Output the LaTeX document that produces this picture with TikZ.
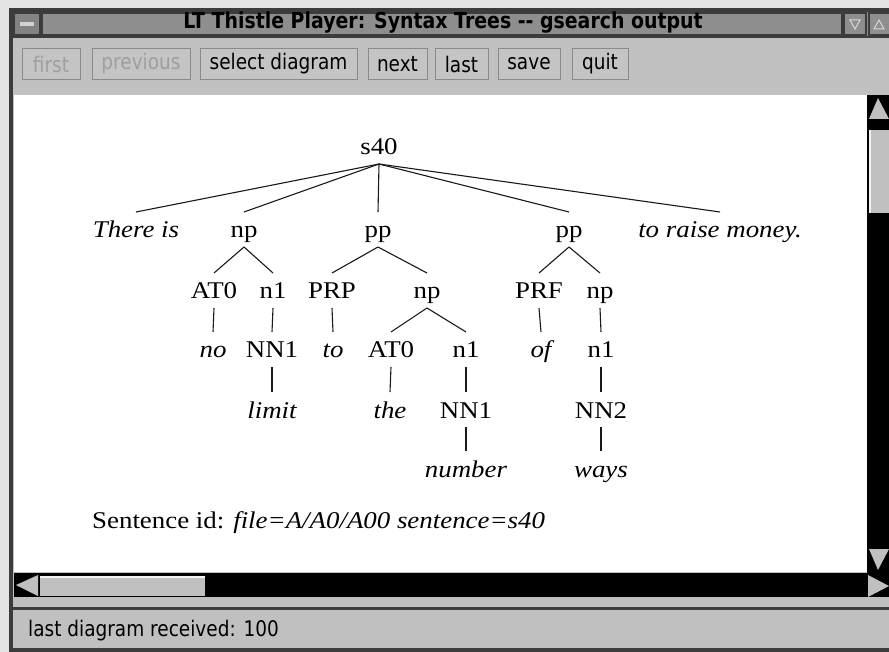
\documentclass[tikz,border=0pt]{standalone}
\usepackage{fontspec}
\setmainfont{Liberation Serif}[FakeStretch=1.12]
\newfontfamily\uifont{DejaVu Sans}[FakeStretch=0.86]
\usetikzlibrary{calc}
\definecolor{framedark}{HTML}{3C3C3C}
\definecolor{titlegray}{HTML}{8E8E8E}
\definecolor{wingray}{HTML}{C0C0C0}
\definecolor{btnfill}{HTML}{C4C4C4}
\definecolor{btnedge}{HTML}{8A8A8A}
\definecolor{outerbg}{HTML}{E4E4E4}
\newcommand\treeedge[2]{\draw[branch] ($(#1.base)+(0,9)$) -- ($(#2.base)+(0,-26)$);}
\begin{document}
\begin{tikzpicture}[x=1pt,y=-1pt,
  word/.style={font=\fontsize{24}{28}\selectfont\itshape, anchor=base, inner sep=0pt},
  cat/.style={font=\fontsize{24}{28}\selectfont, anchor=base, inner sep=0pt},
  branch/.style={line width=1.1pt, black!90},
  btn/.style={draw=btnedge, fill=btnfill, line width=1pt, minimum height=31pt, inner sep=0pt,
    font=\uifont\fontsize{21.5}{24}\selectfont},
  btnoff/.style={btn, text=gray!75},
  uitext/.style={font=\uifont\fontsize{21.5}{24}\selectfont, inner sep=0pt}]
\useasboundingbox (0,0) rectangle (889,652);
% outer background and window body
\fill[outerbg] (0,0) rectangle (889,652);
\fill[wingray] (9,8) rectangle (889,652);
\fill[framedark] (9,8) rectangle (13,652);
\fill[framedark] (9,8) rectangle (889,12);
% title bar
\fill[titlegray] (13,12) rectangle (889,36);
\fill[framedark] (13,36) rectangle (889,38);
\draw[framedark, line width=1.5pt, fill=titlegray!110] (14,13) rectangle (40,35);
\fill[gray!35] (20,22) rectangle (34,26);
\draw[framedark, line width=1.5pt] (42,13) rectangle (842,35);
\draw[framedark, line width=1.5pt] (844,13) rectangle (866,35);
\draw[framedark, line width=1.5pt] (869,13) rectangle (891,35);
\draw[gray!30, line width=1pt] (850,20) -- (860,20) -- (855,29) -- cycle;
\draw[gray!30, line width=1pt] (874,29) -- (884,29) -- (879,20) -- cycle;
\node[font=\uifont\bfseries\fontsize{22}{24}\selectfont, inner sep=0pt] (title) at (443,23) {LT Thistle Player: Syntax Trees -{}- gsearch output};
% buttons
\node[btnoff, minimum width=58pt] (bfirst) at (51,64) {first};
\node[btnoff, minimum width=98pt] (bprev) at (141,64) {previous};
\node[btn, minimum width=157pt] (bsel) at (278.5,64) {select diagram};
\node[btn, minimum width=59pt] (bnext) at (397.5,64) {next};
\node[btn, minimum width=53pt] (blast) at (461.5,64) {last};
\node[btn, minimum width=62pt] (bsave) at (529,64) {save};
\node[btn, minimum width=56pt] (bquit) at (600,64) {quit};
% canvas
\fill[white] (14,95) rectangle (867,572);
% vertical scrollbar
\fill[black] (867,95) rectangle (889,573);
\fill[wingray] (878,98) -- (869,119) -- (889,119) -- cycle;
\fill[wingray] (869,130) rectangle (889,213);
\fill[white!80!wingray] (869,130) rectangle (871,213);
\fill[wingray] (869,549) -- (889,549) -- (878,570) -- cycle;
% horizontal scrollbar
\fill[black] (14,573) rectangle (889,597);
\fill[wingray] (16,585) -- (38,575) -- (38,596) -- cycle;
\fill[wingray] (40,576) rectangle (205,596);
\fill[white!80!wingray] (40,576) rectangle (205,578);
\fill[wingray] (868,575) -- (868,597) -- (889,586) -- cycle;
% status bar
\fill[wingray] (13,597) rectangle (889,607);
\fill[framedark] (13,607) rectangle (889,610);
\fill[wingray] (14,610) rectangle (889,648);
\fill[framedark] (13,648) rectangle (889,652);
\node[uitext, anchor=west] (status) at (28,631) {last diagram received: 100};
% tree
\node[cat] (s) at (379,155) {s40};
\node[word] (w1) at (136,238) {There is};
\node[cat] (np1) at (244,238) {np};
\node[cat] (pp1) at (378,238) {pp};
\node[cat] (pp2) at (569,238) {pp};
\node[word] (w2) at (720,238) {to raise money.};
\node[cat] (at1) at (214,299) {AT0};
\node[cat] (n1a) at (273,299) {n1};
\node[cat] (prp) at (332,299) {PRP};
\node[cat] (np2) at (427,299) {np};
\node[cat] (prf) at (539,299) {PRF};
\node[cat] (np3) at (600,299) {np};
\node[word] (no) at (213,358) {no};
\node[cat] (nn1a) at (272,358) {NN1};
\node[word] (to) at (333,358) {to};
\node[cat] (at2) at (391,358) {AT0};
\node[cat] (n1b) at (466,358) {n1};
\node[word] (of) at (541,358) {of};
\node[cat] (n1c) at (601,358) {n1};
\node[word] (limit) at (272,418) {limit};
\node[word] (the) at (390,418) {the};
\node[cat] (nn1b) at (466,418) {NN1};
\node[cat] (nn2) at (601,418) {NN2};
\node[word] (number) at (466,477) {number};
\node[word] (ways) at (601,477) {ways};
\treeedge{s}{w1}
\treeedge{s}{np1}
\treeedge{s}{pp1}
\treeedge{s}{pp2}
\treeedge{s}{w2}
\treeedge{np1}{at1}
\treeedge{np1}{n1a}
\treeedge{pp1}{prp}
\treeedge{pp1}{np2}
\treeedge{pp2}{prf}
\treeedge{pp2}{np3}
\treeedge{at1}{no}
\treeedge{n1a}{nn1a}
\treeedge{prp}{to}
\treeedge{np2}{at2}
\treeedge{np2}{n1b}
\treeedge{prf}{of}
\treeedge{np3}{n1c}
\treeedge{nn1a}{limit}
\treeedge{at2}{the}
\treeedge{n1b}{nn1b}
\treeedge{n1c}{nn2}
\treeedge{nn1b}{number}
\treeedge{nn2}{ways}
\node[anchor=base west, inner sep=0pt, font=\fontsize{24}{28}\selectfont] (sid) at (92,528) {Sentence id: \textit{file=A/A0/A00 sentence=s40}};
\end{tikzpicture}
\end{document}
